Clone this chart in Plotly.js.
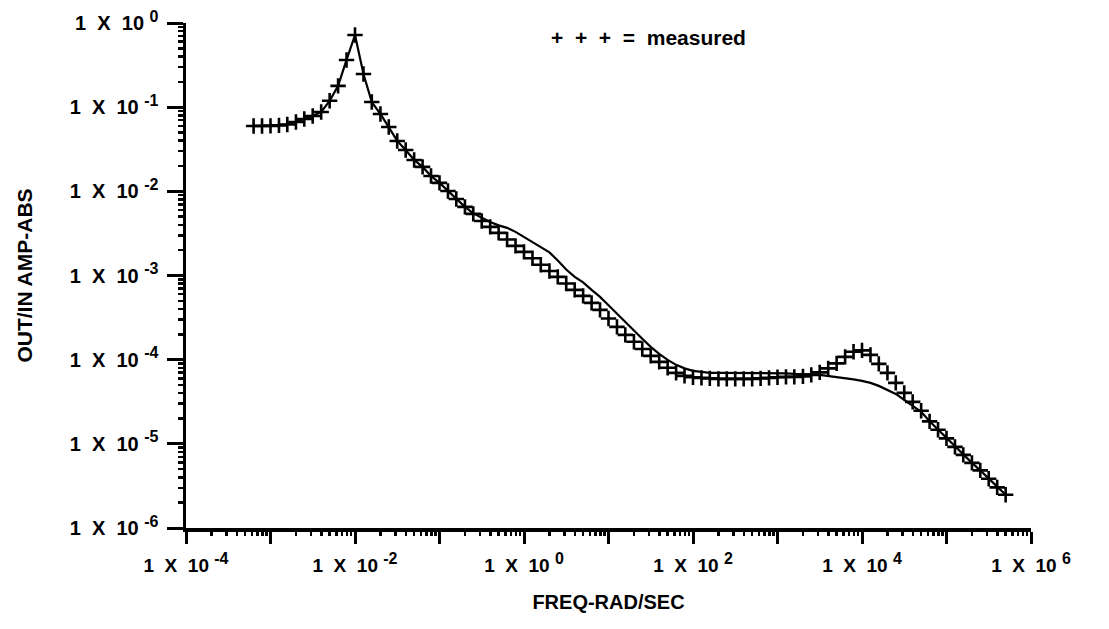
<!DOCTYPE html>
<html>
<head>
<meta charset="utf-8">
<script src="https://cdn.plot.ly/plotly-3.0.1.min.js"></script>
<style>html,body{margin:0;padding:0;background:#fff;}#chart{width:1109px;height:629px;}</style>
</head>
<body>
<div id="chart"></div>
<script>
// Frequency (rad/s) of each measured point
const freq = [
  6.31e-4, 7.94e-4, 1.0e-3, 1.26e-3, 1.58e-3, 2.0e-3, 2.51e-3, 3.16e-3, 3.98e-3, 5.01e-3,
  6.31e-3, 7.94e-3, 1.0e-2, 1.26e-2, 1.58e-2, 2.0e-2, 2.51e-2, 3.16e-2, 3.98e-2, 5.01e-2,
  6.31e-2, 7.94e-2, 0.1, 0.126, 0.158, 0.2, 0.251, 0.316, 0.398, 0.501,
  0.631, 0.794, 1.0, 1.26, 1.58, 2.0, 2.51, 3.16, 3.98, 5.01,
  6.31, 7.94, 10, 12.6, 15.8, 20, 25.1, 31.6, 39.8, 50.1,
  63.1, 79.4, 100, 126, 158, 200, 251, 316, 398, 501,
  631, 794, 1000, 1260, 1580, 2000, 2510, 3160, 3980, 5010,
  6310, 7940, 10000, 12600, 15800, 20000, 25100, 31600, 39800, 50100,
  63100, 79400, 100000, 126000, 158000, 200000, 251000, 316000, 398000, 501000
];
// Measured amplitude ratio (+ + +)
const measured = [
  0.0598, 0.0598, 0.0600, 0.0607, 0.0623, 0.0667, 0.0724, 0.0786, 0.0877, 0.119,
  0.179, 0.364, 0.72, 0.248, 0.115, 0.083, 0.0582, 0.0397, 0.0310, 0.0236,
  0.0195, 0.0152, 0.0126, 0.0101, 0.0081, 0.00653, 0.00539, 0.00445, 0.00378, 0.00321,
  0.00268, 0.00225, 0.00191, 0.00160, 0.00134, 0.00113, 0.000962, 0.000805, 0.000675, 0.000573,
  0.000473, 0.000390, 0.000309, 0.000245, 0.000197, 0.000163, 0.000134, 0.000111, 9.41e-5, 8.0e-5,
  6.97e-5, 6.42e-5, 6.17e-5, 6.08e-5, 6.0e-5, 5.92e-5, 5.92e-5, 5.92e-5, 5.92e-5, 5.92e-5,
  6.0e-5, 6.08e-5, 6.17e-5, 6.25e-5, 6.25e-5, 6.33e-5, 6.6e-5, 7.06e-5, 7.88e-5, 9.04e-5,
  1.08e-4, 1.24e-4, 1.29e-4, 1.14e-4, 8.91e-5, 6.97e-5, 5.30e-5, 4.03e-5, 3.15e-5, 2.47e-5,
  1.85e-5, 1.47e-5, 1.16e-5, 9.2e-6, 7.4e-6, 5.94e-6, 4.84e-6, 3.84e-6, 3.04e-6, 2.48e-6
];
// Model (solid line)
const model = [
  0.0598, 0.0598, 0.0600, 0.0607, 0.0623, 0.0667, 0.0724, 0.0786, 0.0877, 0.119,
  0.179, 0.364, 0.72, 0.248, 0.115, 0.083, 0.0582, 0.0397, 0.0310, 0.0236,
  0.0195, 0.0152, 0.0126, 0.0101, 0.0081, 0.00653, 0.00547, 0.00483, 0.00433, 0.00394,
  0.00368, 0.00330, 0.00287, 0.00254, 0.00222, 0.00188, 0.00151, 0.00118, 0.000962, 0.000828,
  0.000675, 0.000557, 0.000442, 0.000350, 0.000277, 0.000220, 0.000177, 0.000142, 0.000117, 9.95e-5,
  8.67e-5, 7.88e-5, 7.36e-5, 7.16e-5, 6.97e-5, 6.97e-5, 6.97e-5, 6.97e-5, 6.97e-5, 6.97e-5,
  6.97e-5, 6.97e-5, 6.97e-5, 6.87e-5, 6.78e-5, 6.78e-5, 6.69e-5, 6.60e-5, 6.42e-5, 6.25e-5,
  6.08e-5, 5.84e-5, 5.60e-5, 5.30e-5, 4.88e-5, 4.38e-5, 3.92e-5, 3.33e-5, 2.83e-5, 2.40e-5,
  1.85e-5, 1.47e-5, 1.16e-5, 9.2e-6, 7.4e-6, 5.94e-6, 4.84e-6, 3.84e-6, 3.04e-6, 2.48e-6
];
// Axis tick labels (exponent per decade; blank = unlabelled decade)
const xExponents = ['-4', '', '-2', '', '0', '', '2', '', '4', '', '6'];
const xTickVals = [1e-4, 1e-3, 1e-2, 1e-1, 1e0, 1e1, 1e2, 1e3, 1e4, 1e5, 1e6];
const yExponents = ['-6', '-5', '-4', '-3', '-2', '-1', '0'];
const yTickVals = [1e-6, 1e-5, 1e-4, 1e-3, 1e-2, 1e-1, 1e0];

function powLabel(e) {
  if (e === '') return ' ';
  return '1\u00a0 X\u00a0 10\u00a0<sup><span style="font-size:16px">' + e + '</span></sup>';
}
const xTickText = xExponents.map(powLabel);
const yTickText = yExponents.map(powLabel);

// minor tick positions (2..9 within each decade)
function minorTicks(lo, hi) {
  const out = [];
  for (let e = lo; e < hi; e++) {
    for (let d = 2; d <= 9; d++) out.push(d * Math.pow(10, e));
  }
  return out;
}

const FONT = 'Liberation Sans, Arial, Helvetica, sans-serif';

const traces = [
  {
    x: freq, y: model, type: 'scatter', mode: 'lines', name: 'model',
    line: {color: '#000', width: 2.2}
  },
  {
    x: freq, y: measured, type: 'scatter', mode: 'markers', name: 'measured',
    marker: {symbol: 'cross-thin', size: 11, color: '#000', line: {color: '#000', width: 2.6}}
  },
  // carrier for the minor-tick overlay axes (invisible)
  {
    x: [freq[0]], y: [measured[0]], type: 'scatter', mode: 'markers', xaxis: 'x2', yaxis: 'y2',
    marker: {opacity: 0}, hoverinfo: 'skip', showlegend: false
  }
];

const layout = {
  width: 1109, height: 629,
  margin: {l: 186, r: 78, t: 23, b: 101},
  paper_bgcolor: '#fff', plot_bgcolor: '#fff',
  showlegend: false,
  font: {family: FONT, color: '#000'},
  xaxis: {
    type: 'log', range: [-4, 6],
    showline: true, linewidth: 3.5, linecolor: '#000', mirror: false,
    showgrid: false, zeroline: false,
    tickmode: 'array', tickvals: xTickVals, ticktext: xTickText,
    ticks: 'outside', ticklen: 12, tickwidth: 3, tickcolor: '#000',
    tickfont: {family: FONT, size: 19, color: '#000', weight: 'bold'},
    ticklabelstandoff: 6,
    title: {text: '<b>FREQ-RAD/SEC</b>', font: {family: FONT, size: 20, color: '#000'}, standoff: 20}
  },
  yaxis: {
    type: 'log', range: [-6, 0],
    showline: true, linewidth: 3.5, linecolor: '#000', mirror: false,
    showgrid: false, zeroline: false,
    tickmode: 'array', tickvals: yTickVals, ticktext: yTickText,
    ticks: 'outside', ticklen: 16, tickwidth: 3, tickcolor: '#000',
    tickfont: {family: FONT, size: 20, color: '#000', weight: 'bold'},
    ticklabelstandoff: 4,
    title: {text: '<b>OUT/IN AMP-ABS</b>', font: {family: FONT, size: 21, color: '#000'}, standoff: 32}
  },
  xaxis2: {
    type: 'log', range: [-4, 6], overlaying: 'x', anchor: 'y2', side: 'bottom',
    showline: false, showgrid: false, zeroline: false, showticklabels: false,
    tickmode: 'array', tickvals: minorTicks(-4, 6),
    ticks: 'outside', ticklen: 7, tickwidth: 2.5, tickcolor: '#000'
  },
  yaxis2: {
    type: 'log', range: [-6, 0], overlaying: 'y', anchor: 'x2', side: 'left',
    showline: false, showgrid: false, zeroline: false, showticklabels: false,
    tickmode: 'array', tickvals: minorTicks(-6, 0),
    ticks: 'outside', ticklen: 7, tickwidth: 2.5, tickcolor: '#000'
  },
  annotations: [
    {
      xref: 'paper', yref: 'paper', x: 0.547, y: 0.972, xanchor: 'center', yanchor: 'middle',
      text: '<b>+\u00a0 +\u00a0 +\u00a0 =\u00a0 measured</b>', showarrow: false,
      font: {family: FONT, size: 21, color: '#000'}
    }
  ]
};

Plotly.newPlot('chart', traces, layout, {displayModeBar: false, staticPlot: true});
</script>
</body>
</html>
